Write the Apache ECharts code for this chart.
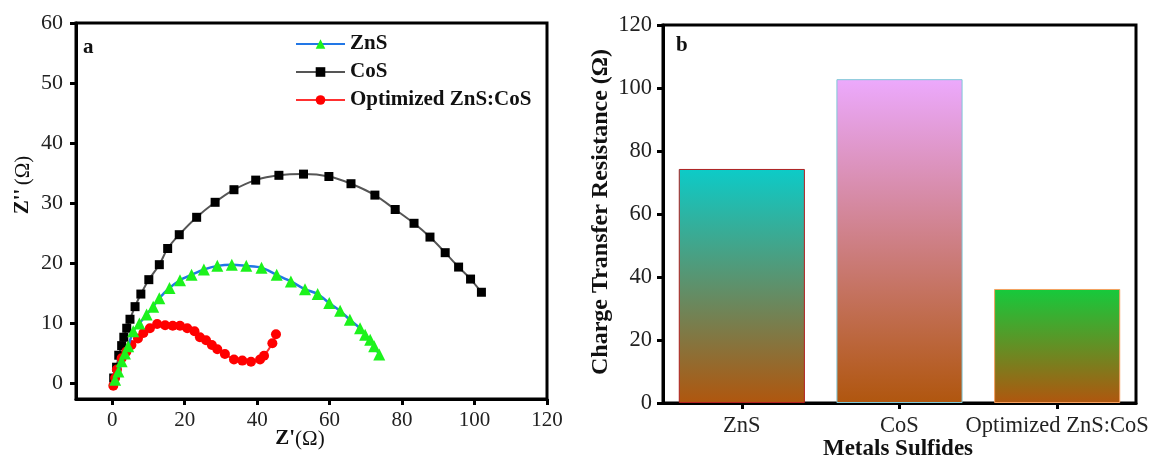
<!DOCTYPE html>
<html>
<head>
<meta charset="utf-8">
<script src="https://cdn.jsdelivr.net/npm/echarts@6/dist/echarts.min.js"></script>
<style>
  html, body { margin: 0; padding: 0; background: #fff; }
  #chart { width: 1150px; height: 457px; }
</style>
</head>
<body>
<div id="chart"></div>
<script>
// ---------- Data ----------
const seriesNames = ['ZnS', 'CoS', 'Optimized ZnS:CoS'];

// Nyquist plot (a): [Z', Z'']
const znsNyquist = [
  [0.8,0.5],[1.7,1.9],[2.6,3.6],[3.5,4.9],[4.4,6.1],[5.8,8.6],[7.5,9.9],[9.5,11.4],
  [11.3,12.7],[13.0,14.1],[15.8,15.8],[18.7,17.1],[21.9,18.0],[25.3,18.9],[29.0,19.5],
  [33.0,19.7],[37.0,19.5],[41.2,19.2],[45.4,18.0],[49.3,16.9],[53.2,15.6],[56.7,14.8],
  [59.9,13.3],[62.9,12.0],[65.6,10.5],[68.4,9.1],[69.8,8.0],[71.2,7.2],[72.3,6.1],[73.7,4.7]
];
const cosNyquist = [
  [0.4,0.8],[1.2,2.6],[1.8,4.6],[2.6,6.2],[3.2,7.6],[4.0,9.1],[4.9,10.6],[6.3,12.7],
  [7.9,14.8],[10.1,17.2],[13.0,19.7],[15.3,22.4],[18.5,24.7],[23.3,27.6],[28.4,30.1],
  [33.6,32.2],[39.6,33.8],[46.0,34.6],[52.8,34.8],[59.8,34.4],[65.9,33.2],[72.5,31.3],
  [78.1,28.9],[83.3,26.6],[87.7,24.3],[91.9,21.7],[95.6,19.3],[98.9,17.3],[101.9,15.1]
];
const optNyquist = [
  [0.3,-0.5],[0.8,0.8],[1.3,2.2],[2.6,4.1],[3.9,5.2],[5.3,6.3],[7.1,7.4],[8.6,8.3],
  [10.4,9.1],[12.4,9.8],[14.6,9.6],[16.7,9.5],[18.7,9.5],[20.7,9.1],[22.7,8.6],[24.2,7.6],
  [25.9,7.1],[27.5,6.3],[29.0,5.6],[31.1,4.8],[33.6,3.9],[35.9,3.7],[38.3,3.5],[40.8,3.9],
  [41.9,4.5],[44.2,6.6],[45.2,8.1]
];

// Bar chart (b)
const barCategories = ['ZnS', 'CoS', 'Optimized ZnS:CoS'];
const chargeTransferResistance = [74.3, 102.8, 36.2];

// Tick labels
const nyquistXTicks = [0, 20, 40, 60, 80, 100, 120];
const nyquistYTicks = [0, 10, 20, 30, 40, 50, 60];

// ---------- Styles ----------
const FONT = '"Liberation Serif", "Times New Roman", serif';
const barGradients = [
  { top: '#0ccbc8', bottom: '#b0560e', border: '#b02020' },
  { top: '#eca9fd', bottom: '#b0560e', border: '#7fc8d8' },
  { top: '#15ca3c', bottom: '#b0560e', border: '#f5a060' }
];

const chart = echarts.init(document.getElementById('chart'), null, { renderer: 'canvas' });

const axisLineStyle = { color: '#000', width: 3 };
const lab = (size, extra) => Object.assign({ fontFamily: FONT, fontSize: size, color: '#222' }, extra || {});

const barData = chargeTransferResistance.map((v, i) => ({
  value: v,
  itemStyle: {
    color: new echarts.graphic.LinearGradient(0, 0, 0, 1, [
      { offset: 0, color: barGradients[i].top },
      { offset: 1, color: barGradients[i].bottom }
    ]),
    borderColor: barGradients[i].border,
    borderWidth: 1
  }
}));

const option = {
  backgroundColor: '#fff',
  animation: false,
  grid: [
    { left: 76, top: 23, width: 471, height: 376, show: true, borderColor: '#000', borderWidth: 3, containLabel: false, outerBoundsMode: 'none' },
    { left: 663, top: 25, width: 473, height: 378, show: true, borderColor: '#000', borderWidth: 3, containLabel: false, outerBoundsMode: 'none' }
  ],
  xAxis: [
    {
      gridIndex: 0, type: 'value', min: -10, max: 120,
      axisLine: { show: true, lineStyle: axisLineStyle, onZero: false },
      axisTick: { show: true, length: 6, inside: false, lineStyle: { color: '#000', width: 3 }, customValues: nyquistXTicks },
      axisLabel: lab(21, { margin: 11, customValues: nyquistXTicks }),
      splitLine: { show: false }
    },
    {
      gridIndex: 1, type: 'category', data: barCategories,
      axisLine: { show: true, lineStyle: axisLineStyle },
      axisTick: { show: true, alignWithLabel: true, length: 6, lineStyle: { color: '#000', width: 3 } },
      axisLabel: lab(22.5, { margin: 12, interval: 0 }),
      splitLine: { show: false }
    }
  ],
  yAxis: [
    {
      gridIndex: 0, type: 'value', min: -2.7, max: 60,
      axisLine: { show: true, lineStyle: axisLineStyle, onZero: false },
      axisTick: { show: true, length: 6, lineStyle: { color: '#000', width: 3 }, customValues: nyquistYTicks },
      axisLabel: lab(22, { margin: 13, customValues: nyquistYTicks }),
      splitLine: { show: false }
    },
    {
      gridIndex: 1, type: 'value', min: 0, max: 120, interval: 20,
      axisLine: { show: true, lineStyle: axisLineStyle },
      axisTick: { show: true, length: 6, lineStyle: { color: '#000', width: 3 } },
      axisLabel: lab(22.5, { margin: 11 }),
      splitLine: { show: false }
    }
  ],
  legend: {
    data: seriesNames,
    orient: 'vertical',
    left: 295, top: 33, padding: 0,
    itemWidth: 49, itemHeight: 12, itemGap: 6,
    textStyle: { fontFamily: FONT, fontSize: 21, fontWeight: 'bold', color: '#111', lineHeight: 22 },
    selectedMode: false
  },
  series: [
    {
      name: 'CoS', type: 'line', xAxisIndex: 0, yAxisIndex: 0,
      data: cosNyquist, smooth: 0.3,
      symbol: 'rect', symbolSize: 9,
      lineStyle: { color: '#555555', width: 2 },
      itemStyle: { color: '#000000' },
      z: 2
    },
    {
      name: 'Optimized ZnS:CoS', type: 'line', xAxisIndex: 0, yAxisIndex: 0,
      data: optNyquist, smooth: 0.3,
      symbol: 'circle', symbolSize: 10,
      lineStyle: { color: '#ff3030', width: 2 },
      itemStyle: { color: '#ff0000' },
      z: 3
    },
    {
      name: 'ZnS', type: 'line', xAxisIndex: 0, yAxisIndex: 0,
      data: znsNyquist, smooth: 0.3,
      symbol: 'triangle', symbolSize: 12,
      lineStyle: { color: '#2277e6', width: 2.5 },
      itemStyle: { color: '#1cf21c' },
      z: 4
    },
    {
      name: 'Rct', type: 'bar', xAxisIndex: 1, yAxisIndex: 1,
      data: barData, barWidth: '80%'
    }
  ],
  graphic: [
    { type: 'text', left: 83, top: 37, style: { text: 'a', font: 'bold 21px ' + FONT, fill: '#111' } },
    { type: 'text', left: 676, top: 35, style: { text: 'b', font: 'bold 21px ' + FONT, fill: '#111' } },
    {
      type: 'text', x: 23, y: 185, rotation: Math.PI / 2,
      style: {
        text: "{b|Z''} {n|(Ω)}", align: 'center', verticalAlign: 'middle',
        rich: {
          b: { font: 'bold 21px ' + FONT, fill: '#111' },
          n: { font: '21px ' + FONT, fill: '#111' }
        }
      }
    },
    {
      type: 'text', x: 300, y: 439,
      style: {
        text: "{b|Z'}{n|(Ω)}", align: 'center', verticalAlign: 'middle',
        rich: {
          b: { font: 'bold 21px ' + FONT, fill: '#111' },
          n: { font: '21px ' + FONT, fill: '#111' }
        }
      }
    },
    {
      type: 'text', x: 601, y: 212, rotation: Math.PI / 2,
      style: { text: 'Charge Transfer Resistance (Ω)', font: 'bold 24px ' + FONT, fill: '#111', align: 'center', verticalAlign: 'middle' }
    },
    {
      type: 'text', x: 898, y: 449,
      style: { text: 'Metals Sulfides', font: 'bold 23px ' + FONT, fill: '#111', align: 'center', verticalAlign: 'middle' }
    }
  ]
};

chart.setOption(option);
</script>
</body>
</html>
